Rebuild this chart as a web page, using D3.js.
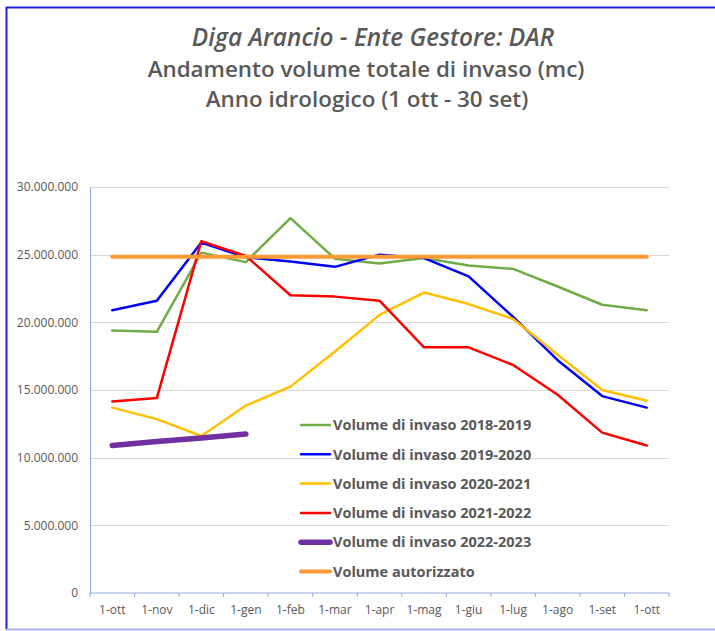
<!DOCTYPE html>
<html>
<head>
<meta charset="utf-8">
<script src="https://cdn.jsdelivr.net/npm/d3@7"></script>
<style>
  body { margin: 0; background: #fff; }
  svg { display: block; font-family: "Open Sans", sans-serif; }
</style>
</head>
<body>
<div id="chart"></div>
<script>
// Dati (mc)
const months = ['1-ott', '1-nov', '1-dic', '1-gen', '1-feb', '1-mar', '1-apr', '1-mag', '1-giu', '1-lug', '1-ago', '1-set', '1-ott'];
const yTicks = [0, 5000000, 10000000, 15000000, 20000000, 25000000, 30000000];

const vol2018 = [19400000, 19300000, 25150000, 24450000, 27700000, 24700000, 24350000, 24750000, 24200000, 23950000, 22650000, 21300000, 20900000];
const vol2019 = [20900000, 21600000, 25900000, 24800000, 24500000, 24100000, 25000000, 24750000, 23400000, 20400000, 17200000, 14550000, 13700000];
const vol2020 = [13700000, 12850000, 11600000, 13850000, 15250000, 17850000, 20550000, 22200000, 21350000, 20250000, 17600000, 15000000, 14200000];
const vol2021 = [14150000, 14400000, 26000000, 24900000, 22000000, 21900000, 21600000, 18150000, 18150000, 16850000, 14650000, 11850000, 10900000];
const vol2022 = [10900000, 11200000, 11450000, 11750000];
const volAutorizzato = [24850000, 24850000, 24850000, 24850000, 24850000, 24850000, 24850000, 24850000, 24850000, 24850000, 24850000, 24850000, 24850000];

const seriesNames = ['Volume di invaso 2018-2019', 'Volume di invaso 2019-2020', 'Volume di invaso 2020-2021', 'Volume di invaso 2021-2022', 'Volume di invaso 2022-2023', 'Volume autorizzato'];
const seriesValues = [vol2018, vol2019, vol2020, vol2021, vol2022, volAutorizzato];
const seriesColors = ['#70ad47', '#0000ff', '#ffc000', '#ff0000', '#7030a0', '#ff9933'];
const seriesWidths = [2.5, 2.5, 2.5, 2.5, 5.5, 4];

const width = 715, height = 631;
const margin = { top: 187, right: 46, bottom: 38, left: 90 };

const svg = d3.select('#chart')
  .append('svg')
  .attr('width', width)
  .attr('height', height);

// Cornice
svg.append('line').attr('x1', 6).attr('x2', width).attr('y1', 7.5).attr('y2', 7.5)
  .attr('stroke', '#2020e0').attr('stroke-width', 2);
svg.append('line').attr('x1', 6.5).attr('x2', 6.5).attr('y1', 7).attr('y2', 630)
  .attr('stroke', '#2020e0').attr('stroke-width', 2);
svg.append('line').attr('x1', 6).attr('x2', width).attr('y1', 629.5).attr('y2', 629.5)
  .attr('stroke', '#aab2f2').attr('stroke-width', 2);

// Titolo
const title = svg.append('g')
  .attr('text-anchor', 'middle')
  .attr('fill', '#595959')
  .attr('font-weight', 600);
title.append('text').attr('x', 373).attr('y', 46)
  .attr('font-size', 24.4).attr('font-style', 'italic').text('Diga Arancio - Ente Gestore: DAR');
title.append('text').attr('x', 366).attr('y', 77)
  .attr('font-size', 22.4).text('Andamento volume totale di invaso (mc)');
title.append('text').attr('x', 367).attr('y', 107)
  .attr('font-size', 22.4).text('Anno idrologico (1 ott - 30 set)');

// Scale
const x = d3.scaleBand()
  .domain(months.map((d, i) => i))
  .range([margin.left, width - margin.right]);
const xc = i => x(i) + x.bandwidth() / 2;

const y = d3.scaleLinear()
  .domain([0, 30000000])
  .range([height - margin.bottom, margin.top]);

const itLocale = d3.formatLocale({ decimal: ',', thousands: '.', grouping: [3], currency: ['', ' €'] });
const fmt = itLocale.format(',d');

// Griglia
svg.append('g')
  .selectAll('line')
  .data(yTicks.filter(d => d > 0))
  .enter().append('line')
  .attr('x1', margin.left)
  .attr('x2', width - margin.right)
  .attr('y1', d => Math.round(y(d)) + 0.5)
  .attr('y2', d => Math.round(y(d)) + 0.5)
  .attr('stroke', '#d9d9d9')
  .attr('stroke-width', 1);

// Asse Y
const yAxis = svg.append('g')
  .attr('transform', `translate(${margin.left},0)`)
  .call(d3.axisLeft(y).tickValues(yTicks).tickFormat(fmt).tickSize(0).tickPadding(12));
yAxis.select('.domain').attr('stroke', '#8faadc');
yAxis.selectAll('text').attr('fill', '#595959').attr('font-size', 12).attr('font-family', '"Open Sans", sans-serif');

// Asse X
const xAxisY = y(0);
const xAxis = svg.append('g');
xAxis.append('line')
  .attr('x1', margin.left).attr('x2', width - margin.right)
  .attr('y1', xAxisY).attr('y2', xAxisY)
  .attr('stroke', '#8faadc').attr('stroke-width', 1);
const edges = months.map((d, i) => x(i)).concat([x(months.length - 1) + x.bandwidth()]);
xAxis.selectAll('.tick')
  .data(edges)
  .enter().append('line')
  .attr('x1', d => d).attr('x2', d => d)
  .attr('y1', xAxisY).attr('y2', xAxisY + 4)
  .attr('stroke', '#8faadc');
xAxis.selectAll('text')
  .data(months)
  .enter().append('text')
  .attr('x', (d, i) => xc(i))
  .attr('y', xAxisY + 21)
  .attr('text-anchor', 'middle')
  .attr('font-size', 12)
  .attr('fill', '#595959')
  .text(d => d);

// Linee
const line = d3.line()
  .x((d, i) => xc(i))
  .y(d => y(d));

svg.append('g')
  .selectAll('path')
  .data(seriesValues)
  .enter().append('path')
  .attr('d', d => line(d))
  .attr('fill', 'none')
  .attr('stroke', (d, i) => seriesColors[i])
  .attr('stroke-width', (d, i) => seriesWidths[i])
  .attr('stroke-linejoin', 'round')
  .attr('stroke-linecap', 'round');

// Legenda
const legend = svg.append('g')
  .attr('transform', 'translate(300,425)');
const item = legend.selectAll('g')
  .data(seriesNames)
  .enter().append('g')
  .attr('transform', (d, i) => `translate(0,${i * 29.3})`);
item.append('line')
  .attr('x1', 1).attr('x2', 30)
  .attr('stroke', (d, i) => seriesColors[i])
  .attr('stroke-width', (d, i) => seriesWidths[i])
  .attr('stroke-linecap', 'round');
item.append('text')
  .attr('x', 33)
  .attr('dy', '0.36em')
  .attr('font-size', 14.5)
  .attr('font-weight', 'bold')
  .attr('fill', '#595959')
  .text(d => d);
</script>
</body>
</html>
